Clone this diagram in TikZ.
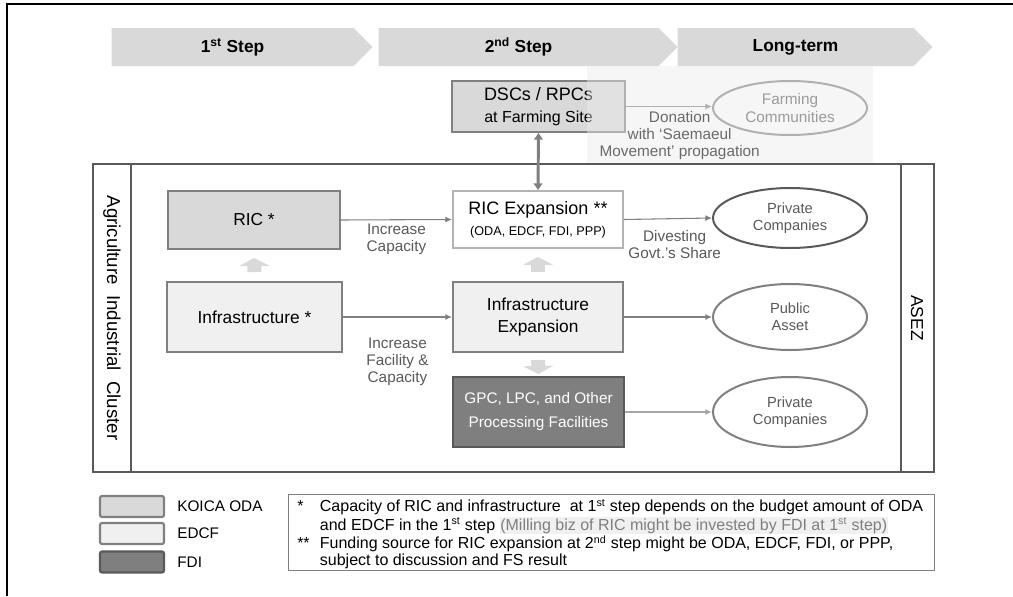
\documentclass[tikz,border=0pt]{standalone}
\usepackage{fontspec}
\setmainfont{Liberation Sans}
\usetikzlibrary{positioning,shapes.geometric,shapes.symbols,arrows.meta}
\definecolor{koica}{RGB}{217,217,217}
\definecolor{edcf}{RGB}{240,240,240}
\definecolor{fdi}{RGB}{127,127,127}
\definecolor{edge}{RGB}{128,128,128}
\definecolor{dark}{RGB}{89,89,89}
\definecolor{haze}{RGB}{235,235,235}

\begin{document}
\begin{tikzpicture}[x=0.75pt, y=-0.75pt,
    chev/.style={signal, signal to=east, fill=koica, minimum height=28.5pt, inner sep=0pt, font=\fontsize{13}{15}\selectfont\bfseries},
    box/.style={rectangle, draw=edge, line width=1.5pt, inner sep=0pt, align=center, font=\fontsize{13}{16}\selectfont},
    oval/.style={ellipse, draw=edge, line width=1.5pt, inner sep=0pt, minimum width=115.5pt, align=center, text=dark, font=\fontsize{11}{13}\selectfont},
    lbl/.style={align=center, text=dark, inner sep=1pt, font=\fontsize{11.5}{12.75}\selectfont},
    arr/.style={draw=edge, line width=0.8pt, -{Latex[length=5pt,width=4.5pt]}},
    blk/.style={draw=koica, line width=10.5pt, -{Triangle[length=6pt,width=22.5pt]}},
    legbox/.style={rectangle, draw=edge, line width=1.6pt, rounded corners=1.5pt, minimum width=48pt, minimum height=15.75pt},
    legtxt/.style={inner sep=0pt, font=\fontsize{11.5}{13}\selectfont}]
    \useasboundingbox (0,0) rectangle (1013,596);

    % frame
    \draw[line width=1.1pt] (7,596) -- (7,4) -- (1013,4);

    % steps
    \node[chev, minimum width=195.75pt] (step1) at (232.5,47) {1\textsuperscript{st} Step};
    \node[chev, minimum width=224.25pt] (step2) at (518.5,47) {2\textsuperscript{nd} Step};
    \node[chev, minimum width=191.25pt] (step3) at (795.5,47) {Long-term};

    % farming site
    \node[box, fill=koica, minimum width=129.75pt, minimum height=38.25pt] (dsc) at (538.5,106.5)
        {{\fontsize{13.5}{16}\selectfont DSCs / RPCs}\\{\fontsize{12}{14}\selectfont at Farming Site}};
    \node[oval, minimum height=40.5pt, font=\fontsize{11.5}{13.5}\selectfont] (farm) at (790,108) {Farming\\Communities};
    \draw[arr] (dsc.east) -- node[lbl, below=2pt, xshift=8pt, text=black] (donl)
        {Donation\\with ‘Saemaeul\\Movement’ propagation} (dsc.east -| farm.west);
    \fill[haze, opacity=0.45] (587,66) rectangle (873,164);

    % cluster
    \draw[dark, line width=0.9pt] (93,164) rectangle (934,472);
    \draw[dark, line width=0.9pt] (131,164) -- (131,472);
    \draw[dark, line width=0.9pt] (901,164) -- (901,472);
    \node[rotate=-90, font=\fontsize{14}{16}\selectfont] (clusterl) at (112,318) {Agriculture\ \ Industrial\ \ Cluster};
    \node[rotate=-90, font=\fontsize{13}{15}\selectfont] (asez) at (917,318) {ASEZ};

    \node[box, fill=koica, minimum width=129pt, minimum height=43.5pt] (ric) at (254,220) {RIC *};
    \node[box, fill=edcf, minimum width=131.25pt, minimum height=52.5pt] (infra) at (254.5,317) {Infrastructure *};
    \node[box, fill=white, draw=edge!60, minimum width=127.5pt, minimum height=42.75pt] (ricx) at (538,219.5)
        {{\fontsize{13.5}{16}\selectfont RIC Expansion **}\\{\fontsize{9.5}{11}\selectfont (ODA, EDCF, FDI, PPP)}};
    \node[box, fill=edcf, minimum width=127.5pt, minimum height=52.5pt] (infx) at (538,317) {Infrastructure\\Expansion};
    \node[box, fill=fdi, draw=dark, text=white, minimum width=128.25pt, minimum height=52.5pt,
        font=\fontsize{11.5}{18}\selectfont] (gpc) at (538.5,412) {GPC, LPC, and Other\\Processing Facilities};

    \node[oval, draw=dark, minimum height=45pt] (priv1) at (790,218) {Private\\Companies};
    \node[oval, minimum height=49.5pt] (pub) at (790,317) {Public\\Asset};
    \node[oval, minimum height=52.5pt] (priv2) at (790,412) {Private\\Companies};

    \draw[blk, shorten <=6.75pt, shorten >=6pt] (infra.north) -- (ric.south);
    \draw[blk, shorten <=6.75pt, shorten >=6pt] (infx.north) -- (ricx.south);
    \draw[blk, shorten <=5.25pt, shorten >=1.5pt] (infx.south) -- (gpc.north);

    \draw[draw=fdi, line width=2.2pt, {Triangle[length=5pt,width=6.5pt]}-{Triangle[length=5pt,width=6.5pt]}] (dsc.south) -- (ricx.north);

    \draw[arr] (ric.east) -- node[lbl, below=2pt] (capl) {Increase\\Capacity} (ricx.west);
    \draw[arr] (ricx.east) -- node[lbl, below=7pt, xshift=5pt] (divl) {Divesting\\Govt.’s Share} (priv1.west);
    \draw[arr] (infra.east) -- node[lbl, below=14pt] (facl) {Increase\\Facility \&\\Capacity} (infx.west);
    \draw[arr] (infx.east) -- (pub.west);
    \draw[arr, draw=edge!70, line width=1.2pt] (gpc.east) -- (priv2.west);

    % legend
    \node[legbox, fill=koica] (lkoica) at (132,506.5) {};
    \node[legbox, fill=edcf] (ledcf) at (132,533.5) {};
    \node[legbox, fill=fdi, draw=dark] (lfdi) at (132,562) {};
    \node[legtxt, right=9pt of lkoica] (tkoica) {KOICA ODA};
    \node[legtxt, right=9pt of ledcf] (tedcf) {EDCF};
    \node[legtxt, right=9pt of lfdi] (tfdi) {FDI};

    % notes
    \node[draw=edge, line width=0.8pt, anchor=north west, minimum width=484.5pt, minimum height=57pt] (notes) at (288,494) {};
    \node[anchor=north west, inner sep=0pt, font=\fontsize{12}{12.5}\selectfont] (notetxt) at (297,499) {%
      \begin{tabular}{@{}p{17pt}@{}l@{}}
      {*} & Capacity of RIC and infrastructure\ \ at 1\textsuperscript{st} step depends on the budget amount of ODA\\
        & and EDCF in the 1\textsuperscript{st} step {\fboxsep=0.5pt\colorbox{edcf}{\color{fdi}(Milling biz of RIC might be invested by FDI at 1\textsuperscript{st} step)}}\\
      {**} & Funding source for RIC expansion at 2\textsuperscript{nd} step might be ODA, EDCF, FDI, or PPP,\\
        & subject to discussion and FS result
      \end{tabular}};
\end{tikzpicture}
\end{document}
